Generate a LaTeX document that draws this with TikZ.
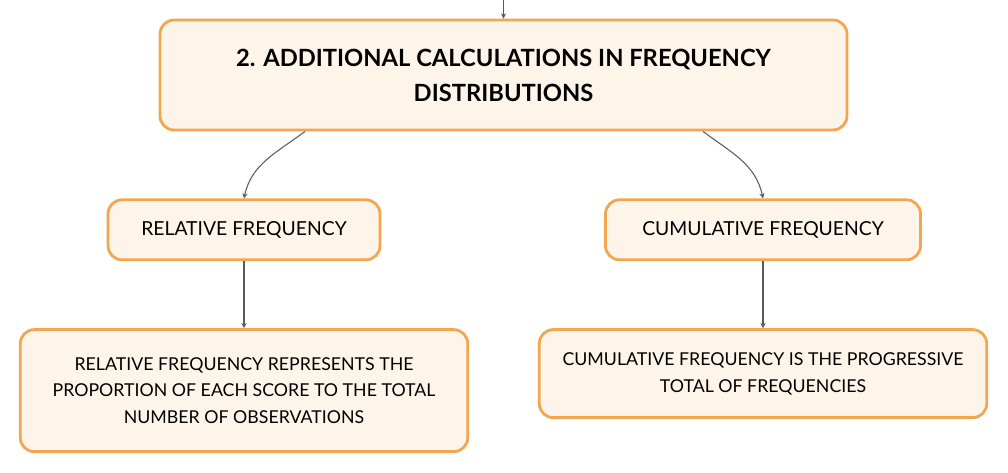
\documentclass[tikz,border=0pt]{standalone}
\usepackage{fontspec}
\setmainfont{Lato}
\usepackage{tikz}
\usetikzlibrary{arrows.meta,positioning,calc}
\definecolor{boxfill}{HTML}{FEF5EA}
\definecolor{boxline}{HTML}{F2A650}
\definecolor{linkgray}{HTML}{5A5A5A}

\begin{document}
\begin{tikzpicture}[
    node distance=1.34cm,
    topic/.style={draw=boxline,fill=boxfill,line width=1.6pt,rectangle,
                  rounded corners=8pt,align=center,inner sep=0pt},
    root/.style={topic,minimum width=13.74cm,minimum height=2.2cm,
                 font=\fontsize{13.5}{20}\selectfont\bfseries},
    sub/.style={topic,minimum height=1.2cm,font=\fontsize{11}{13}\selectfont},
    desc/.style={topic,minimum width=8.95cm,font=\fontsize{10.1}{15.3}\selectfont},
    link/.style={-{Stealth[length=3pt,width=3pt]},draw=linkgray,line width=0.6pt}
  ]
    \useasboundingbox (0,0) rectangle (20.16,-9.44);

    \node[root] (calc) at (10.07,-1.5)
      {2. ADDITIONAL CALCULATIONS IN FREQUENCY\\DISTRIBUTIONS};
    \coordinate (parent) at (10.07,0);

    \node[sub,minimum width=5.44cm,below=of calc,xshift=-5.19cm] (rel)
      {RELATIVE FREQUENCY};
    \node[sub,minimum width=6.3cm,below=of calc,xshift=5.19cm] (cum)
      {CUMULATIVE FREQUENCY};

    \node[desc,minimum height=2.44cm,below=of rel] (reldesc)
      {RELATIVE FREQUENCY REPRESENTS THE\\PROPORTION OF EACH SCORE TO THE TOTAL\\NUMBER OF OBSERVATIONS};
    \node[desc,minimum height=1.76cm,below=of cum] (cumdesc)
      {CUMULATIVE FREQUENCY IS THE PROGRESSIVE\\TOTAL OF FREQUENCIES};

    %% link from the parent topic
    \draw[link] (parent) -- (calc.north);

    %% branches
    \coordinate (relout) at ($(calc.south)+(-3.97,0)$);
    \coordinate (cumout) at ($(calc.south)+(3.99,0)$);
    \draw[link] (relout) to[out=-143,in=78] (rel.north);
    \draw[link] (cumout) to[out=-37,in=102] (cum.north);

    %% details
    \draw[link] (rel) -- (reldesc);
    \draw[link] (cum) -- (cumdesc);
  \end{tikzpicture}
\end{document}
